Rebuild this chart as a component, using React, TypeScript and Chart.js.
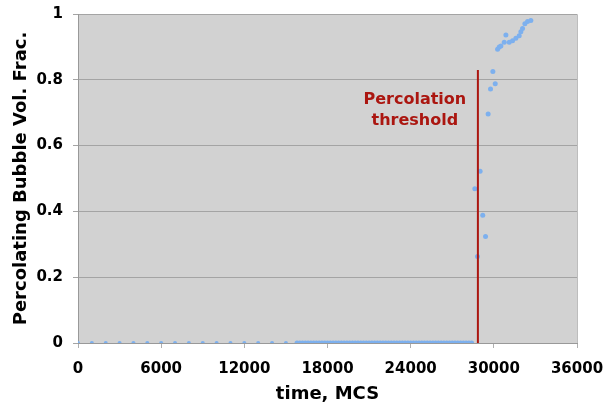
import React, { useEffect, useRef } from "react";
import { Chart, registerables } from "chart.js";

Chart.register(...registerables);

// Sparse early samples (every 1000 MCS) – no percolating bubble
const sparseTimes = [0, 1000, 2000, 3000, 4000, 5000, 6000, 7000, 8000, 9000, 10000, 11000, 12000, 13000, 14000, 15000];
const sparseValues = [0, 0, 0, 0, 0, 0, 0, 0, 0, 0, 0, 0, 0, 0, 0, 0];

// Dense samples before threshold
const denseTimes = [
  15800, 16000, 16200, 16400, 16600, 16800, 17000, 17200, 17400, 17600, 17800,
  18000, 18200, 18400, 18600, 18800, 19000, 19200, 19400, 19600, 19800,
  20000, 20200, 20400, 20600, 20800, 21000, 21200, 21400, 21600, 21800,
  22000, 22200, 22400, 22600, 22800, 23000, 23200, 23400, 23600, 23800,
  24000, 24200, 24400, 24600, 24800, 25000, 25200, 25400, 25600, 25800,
  26000, 26200, 26400, 26600, 26800, 27000, 27200, 27400, 27600, 27800,
  28000, 28200, 28400,
];
const denseValues = [
  0, 0, 0, 0, 0, 0, 0, 0, 0, 0, 0,
  0, 0, 0, 0, 0, 0, 0, 0, 0, 0,
  0, 0, 0, 0, 0, 0, 0, 0, 0, 0,
  0, 0, 0, 0, 0, 0, 0, 0, 0, 0,
  0, 0, 0, 0, 0, 0, 0, 0, 0, 0,
  0, 0, 0, 0, 0, 0, 0, 0, 0, 0,
  0, 0, 0,
];

// Samples through and after the percolation transition
const transitionTimes = [28630, 28820, 29010, 29200, 29400, 29590, 29760, 29930, 30100, 30270, 30390, 30510, 30750, 30870, 31110, 31350, 31590, 31830, 31950, 32070, 32240, 32430, 32670];
const transitionValues = [0.469, 0.263, 0.522, 0.388, 0.324, 0.696, 0.772, 0.825, 0.788, 0.893, 0.9, 0.903, 0.914, 0.936, 0.914, 0.919, 0.926, 0.934, 0.946, 0.956, 0.97, 0.977, 0.98];

const thresholdTime = 28850;
const thresholdTop = 0.83;
const thresholdLabel = ["Percolation", "threshold"];
const labelAnchorTime = 24300;
const labelAnchorValues = [0.738, 0.676];

const xTitle = "time, MCS";
const yTitle = "Percolating Bubble Vol. Frac.";
const xTickValues = [0, 6000, 12000, 18000, 24000, 30000, 36000];
const xTickLabels = ["0", "6000", "12000", "18000", "24000", "30000", "36000"];
const yTickValues = [0, 0.2, 0.4, 0.6, 0.8, 1];
const yTickLabels = ["0", "0.2", "0.4", "0.6", "0.8", "1"];

const FONT = "'DejaVu Sans', Verdana, sans-serif";
const POINT_COLOR = "#7db0ee";
const RED = "#ab1610";

const toPoints = (xs: number[], ys: number[]) => xs.map((x, i) => ({ x, y: ys[i] }));

const labelFor = (values: number[], labels: string[]) => (v: any) => {
  const i = values.findIndex((t) => Math.abs(t - Number(v)) < 1e-6);
  return i >= 0 ? labels[i] : "";
};

const plotFrame = {
  id: "plotFrame",
  beforeDraw(chart: any) {
    const { ctx, chartArea } = chart;
    ctx.save();
    ctx.fillStyle = "#d2d2d2";
    ctx.fillRect(chartArea.left, chartArea.top, chartArea.right - chartArea.left, chartArea.bottom - chartArea.top);
    ctx.strokeStyle = "#bdbdbd";
    ctx.lineWidth = 1;
    ctx.beginPath();
    ctx.moveTo(chartArea.left, chartArea.top + 0.5);
    ctx.lineTo(chartArea.right + 0.5, chartArea.top + 0.5);
    ctx.lineTo(chartArea.right + 0.5, chartArea.bottom);
    ctx.stroke();
    ctx.restore();
  },
};

const thresholdText = {
  id: "thresholdText",
  afterDatasetsDraw(chart: any) {
    const { ctx, scales } = chart;
    ctx.save();
    ctx.fillStyle = RED;
    ctx.font = `bold 16px ${FONT}`;
    ctx.textAlign = "center";
    ctx.textBaseline = "middle";
    const x = scales.x.getPixelForValue(labelAnchorTime);
    thresholdLabel.forEach((line, i) => {
      ctx.fillText(line, x, scales.y.getPixelForValue(labelAnchorValues[i]));
    });
    ctx.restore();
  },
};

export default function App() {
  const ref = useRef<HTMLCanvasElement | null>(null);
  useEffect(() => {
    if (!ref.current) return;
    const pointStyle = {
      showLine: false,
      backgroundColor: POINT_COLOR,
      borderColor: POINT_COLOR,
      borderWidth: 0,
      pointRadius: 2.5,
      pointHoverRadius: 2.5,
    };
    const chart = new Chart(ref.current, {
      type: "scatter",
      data: {
        datasets: [
          { label: "threshold", data: [{ x: thresholdTime, y: 0 }, { x: thresholdTime, y: thresholdTop }], showLine: true, borderColor: RED, borderWidth: 2, pointRadius: 0, order: 0 },
          { label: "sparse", data: toPoints(sparseTimes, sparseValues), ...pointStyle, pointRadius: 2, order: 1 },
          { label: "dense", data: toPoints(denseTimes, denseValues), ...pointStyle, order: 1 },
          { label: "transition", data: toPoints(transitionTimes, transitionValues), ...pointStyle, order: 1 },
        ],
      },
      options: {
        animation: false,
        responsive: false,
        layout: { padding: { top: 14, right: 31, left: 0, bottom: 0 } },
        plugins: { legend: { display: false }, tooltip: { enabled: false } },
        scales: {
          x: {
            type: "linear",
            min: xTickValues[0],
            max: xTickValues[xTickValues.length - 1],
            afterFit: (s: any) => { s.height = 63; s.paddingRight = 0; s.paddingLeft = 0; },
            afterBuildTicks: (s: any) => { s.ticks = xTickValues.map((value) => ({ value })); },
            ticks: { color: "#000", padding: 12, callback: labelFor(xTickValues, xTickLabels), font: { family: FONT, size: 15, weight: "bold" } },
            grid: { drawOnChartArea: false, color: "#b0b0b0", tickLength: 5 },
            border: { color: "#999", width: 1 },
            title: { display: true, text: xTitle, color: "#000", padding: { top: 2, bottom: 1 }, font: { family: FONT, size: 18, weight: "bold" } },
          },
          y: {
            type: "linear",
            min: yTickValues[0],
            max: yTickValues[yTickValues.length - 1],
            afterFit: (s: any) => { s.width = 78; s.paddingTop = 0; s.paddingBottom = 0; },
            afterBuildTicks: (s: any) => { s.ticks = yTickValues.map((value) => ({ value })); },
            ticks: { color: "#000", padding: 10, callback: labelFor(yTickValues, yTickLabels), font: { family: FONT, size: 15, weight: "bold" } },
            grid: { color: "#a4a4a4", tickLength: 5 },
            border: { color: "#999", width: 1 },
            title: { display: true, text: yTitle, color: "#000", padding: { top: 11, bottom: 0 }, font: { family: FONT, size: 18, weight: "bold" } },
          },
        },
      },
      plugins: [plotFrame, thresholdText],
    } as any);
    return () => chart.destroy();
  }, []);
  return (
    <div style={{ position: "absolute", left: 0, top: 0, width: 608, height: 406, background: "#fff" }}>
      <canvas ref={ref} width={608} height={406} />
    </div>
  );
}
